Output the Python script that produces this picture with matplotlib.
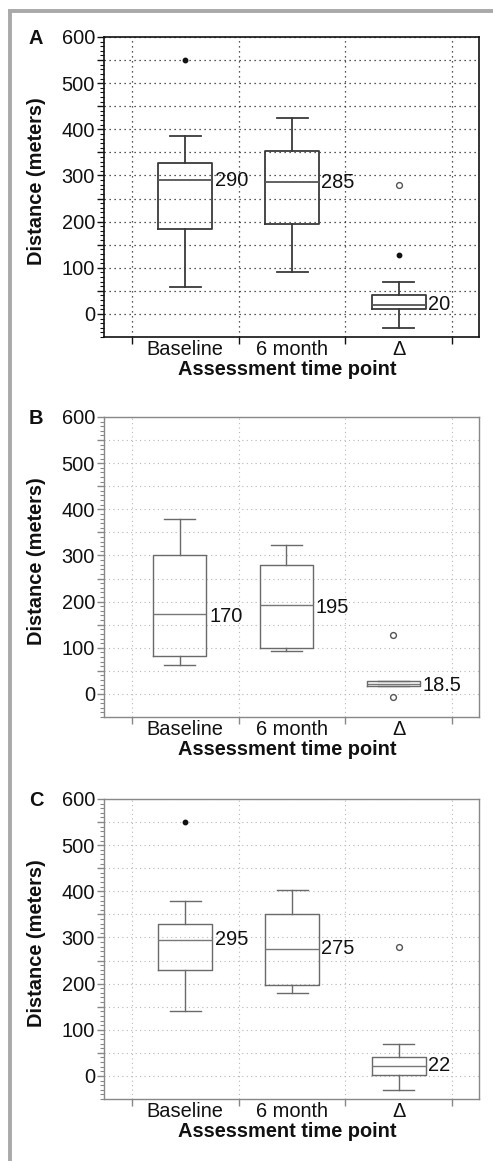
import matplotlib
matplotlib.use("Agg")
import matplotlib.pyplot as plt
from matplotlib.ticker import FixedLocator, FuncFormatter, MultipleLocator
from matplotlib.lines import Line2D

plt.rcParams['font.family'] = ['Liberation Sans', 'DejaVu Sans']

# ---------------- data ----------------
categories = ["Baseline", "6 month", "\u0394"]
y_ticks = [0, 100, 200, 300, 400, 500, 600]

# Panel A
A_median = [290, 285, 20]
A_q1 = [183, 195, 10]
A_q3 = [326, 354, 40]
A_whislo = [58, 90, -30]
A_whishi = [385, 425, 70]
A_far_cat = [0, 2]          # filled outliers (category index)
A_far_val = [550, 127]
A_near_cat = [2]            # open outliers
A_near_val = [280]
A_labels = ["290", "285", "20"]
A_label_y = [290, 285, 20]

# Panel B
B_median = [174, 193, 21]
B_q1 = [83, 100, 17]
B_q3 = [301, 280, 27]
B_whislo = [63, 92, 17]
B_whishi = [380, 323, 27]
B_far_cat = []
B_far_val = []
B_near_cat = [2, 2]
B_near_val = [128, -6]
B_labels = ["170", "195", "18.5"]
B_label_y = [168, 188, 18.5]

# Panel C
C_median = [295, 275, 22]
C_q1 = [230, 198, 2]
C_q3 = [330, 350, 40]
C_whislo = [140, 180, -30]
C_whishi = [380, 402, 70]
C_far_cat = [0]
C_far_val = [550]
C_near_cat = [2]
C_near_val = [280]
C_labels = ["295", "275", "22"]
C_label_y = [295, 275, 22]

panels = [
    dict(letter="A", med=A_median, q1=A_q1, q3=A_q3, lo=A_whislo, hi=A_whishi,
         far_c=A_far_cat, far_v=A_far_val, near_c=A_near_cat, near_v=A_near_val,
         labels=A_labels, label_y=A_label_y),
    dict(letter="B", med=B_median, q1=B_q1, q3=B_q3, lo=B_whislo, hi=B_whishi,
         far_c=B_far_cat, far_v=B_far_val, near_c=B_near_cat, near_v=B_near_val,
         labels=B_labels, label_y=B_label_y),
    dict(letter="C", med=C_median, q1=C_q1, q3=C_q3, lo=C_whislo, hi=C_whishi,
         far_c=C_far_cat, far_v=C_far_val, near_c=C_near_cat, near_v=C_near_val,
         labels=C_labels, label_y=C_label_y),
]

# ---------------- layout / style ----------------
W, H, DPI = 493, 1161, 100
fig = plt.figure(figsize=(W / DPI, H / DPI), dpi=DPI)
fig.patch.set_facecolor("white")

FS = 14.4
ax_left_px, ax_right_px = 104, 479
ax_tops_px = [37, 417, 799]
ax_h_px = 300
x_shift = [0.0, -0.052, 0.0]

styles = [
    dict(grid="#222222", grid_lw=0.9, spine="#111111", spine_lw=1.2,
         box="#3a3a3a", med="#555555", lw=1.3),
    dict(grid="#b8b8b8", grid_lw=0.8, spine="#888888", spine_lw=1.0,
         box="#6a6a6a", med="#777777", lw=1.0),
    dict(grid="#b8b8b8", grid_lw=0.8, spine="#888888", spine_lw=1.0,
         box="#6a6a6a", med="#777777", lw=1.0),
]

positions = [1, 2, 3]

for i, p in enumerate(panels):
    st = styles[i]
    top = ax_tops_px[i]
    ax = fig.add_axes([ax_left_px / W, 1 - (top + ax_h_px) / H,
                       (ax_right_px - ax_left_px) / W, ax_h_px / H])
    ax.set_xlim(0.24, 3.75)
    ax.set_ylim(-50, 600)

    pos = [x + x_shift[i] for x in positions]
    stats = []
    for k in range(3):
        stats.append(dict(med=p["med"][k], q1=p["q1"][k], q3=p["q3"][k],
                          whislo=p["lo"][k], whishi=p["hi"][k], fliers=[]))
    ax.bxp(stats, positions=pos, widths=0.5, capwidths=0.29, showfliers=False,
           boxprops=dict(color=st["box"], linewidth=st["lw"]),
           medianprops=dict(color=st["med"], linewidth=st["lw"]),
           whiskerprops=dict(color=st["box"], linewidth=st["lw"]),
           capprops=dict(color=st["box"], linewidth=st["lw"]),
           manage_ticks=False, zorder=3)

    if p["far_c"]:
        ax.plot([pos[c] for c in p["far_c"]], p["far_v"], "o", ms=3.2,
                color="#111111", mec="#111111", zorder=4)
    if p["near_c"]:
        ax.plot([pos[c] for c in p["near_c"]], p["near_v"], "o", ms=4.2,
                mfc="white", mec="#555555", mew=1.0, zorder=4)

    for k in range(3):
        ax.text(pos[k] + 0.275, p["label_y"][k], p["labels"][k], fontsize=FS,
                ha="left", va="center", color="#111111", zorder=5)

    # y axis ticks
    ax.yaxis.set_major_locator(FixedLocator(list(range(0, 601, 50))))
    ax.yaxis.set_major_formatter(FuncFormatter(
        lambda v, _: str(int(v)) if int(round(v)) in y_ticks else ""))
    ax.yaxis.set_minor_locator(MultipleLocator(10))
    ax.tick_params(axis="y", which="major", direction="out", length=5,
                   width=1.0, pad=1.5, labelsize=FS, colors=st["spine"],
                   labelcolor="#111111")
    ax.tick_params(axis="y", which="minor", direction="out", length=3,
                   width=0.8, colors=st["spine"])

    # x axis ticks: boundaries as major ticks, categories as labels
    ax.xaxis.set_major_locator(FixedLocator([0.5, 1.5, 2.5, 3.5]))
    ax.xaxis.set_major_formatter(FuncFormatter(lambda v, _: ""))
    ax.xaxis.set_minor_locator(FixedLocator(positions))
    ax.xaxis.set_minor_formatter(FuncFormatter(
        lambda v, _: categories[int(round(v)) - 1]))
    ax.tick_params(axis="x", which="major", direction="out", length=5,
                   width=1.0, colors=st["spine"])
    ax.tick_params(axis="x", which="minor", length=0, pad=2.5, labelsize=FS,
                   labelcolor="#111111")

    ax.grid(True, which="major", linestyle=(0, (1, 3)), color=st["grid"],
            linewidth=st["grid_lw"], zorder=0)
    ax.set_axisbelow(True)

    for s in ax.spines.values():
        s.set_color(st["spine"])
        s.set_linewidth(st["spine_lw"])

    ax.set_ylabel("Distance (meters)", fontsize=FS, fontweight="bold",
                  color="#111111")
    ax.yaxis.set_label_coords(-0.155, 0.52)
    ax.set_xlabel("Assessment time point", fontsize=FS, fontweight="bold",
                  color="#111111")
    ax.xaxis.set_label_coords(0.488, -0.078)

    fig.text(36 / W, 1 - (top + 1) / H, p["letter"], fontsize=FS,
             fontweight="bold", ha="center", va="center", color="#111111")

# gray frame (top and left)
fig.add_artist(Line2D([8 / W, 1.0], [1 - 11 / H, 1 - 11 / H],
                      transform=fig.transFigure, color="#a9a9a9", linewidth=2.8,
                      solid_capstyle="butt"))
fig.add_artist(Line2D([10 / W, 10 / W], [1 - 9.6 / H, 0.0],
                      transform=fig.transFigure, color="#a9a9a9", linewidth=2.8,
                      solid_capstyle="butt"))

fig.savefig("out.png", dpi=DPI)
